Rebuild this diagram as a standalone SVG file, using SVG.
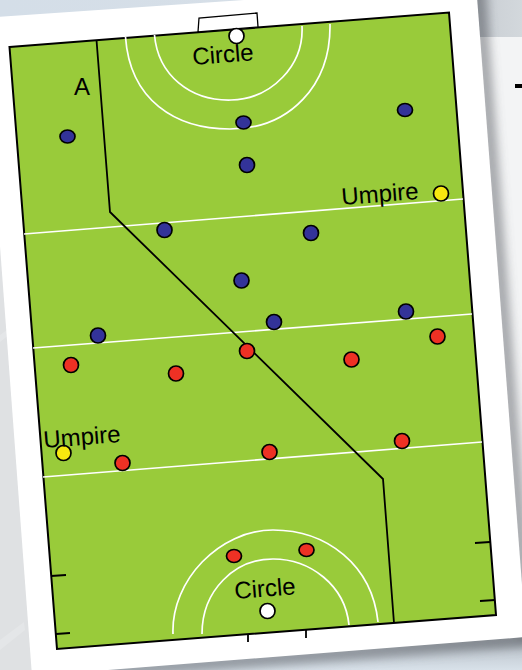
<svg xmlns="http://www.w3.org/2000/svg" width="522" height="670" viewBox="0 0 522 670">
<style>
.field{fill:#99cb3a;stroke:#000;stroke-width:2}
.k{fill:none;stroke:#000;stroke-width:1.800}
.w{fill:none;stroke:#fff;stroke-width:1.700}
.b{fill:#333399;stroke:#000;stroke-width:1.700}
.r{fill:#ee3124;stroke:#000;stroke-width:1.700}
.y{fill:#f7e70f;stroke:#000;stroke-width:1.700}
.o{fill:#fff;stroke:#000;stroke-width:1.700}
.s{fill:#fff;opacity:.18}
text{font-family:"Liberation Sans",Arial,sans-serif;font-size:24px;fill:#000}
</style>
<defs>
<linearGradient id="top" x1="0" y1="0" x2="1" y2="0"><stop offset="0" stop-color="#d4dee8"/><stop offset="1" stop-color="#d8dfe6"/></linearGradient>
<linearGradient id="tr" x1="0" y1="0" x2="1" y2="0"><stop offset="0" stop-color="#a9aeb4"/><stop offset=".5" stop-color="#cdd2d7"/><stop offset="1" stop-color="#d3d8dc"/></linearGradient>
<linearGradient id="bot" x1="0" y1="0" x2="0" y2="1"><stop offset="0" stop-color="#8f959b"/><stop offset=".55" stop-color="#c4ccd4"/><stop offset="1" stop-color="#d8e1e9"/></linearGradient>
<filter id="sh" x="-10%" y="-10%" width="120%" height="120%"><feGaussianBlur stdDeviation="6"/></filter>
</defs>
<rect width="522" height="670" fill="#dfe1e3"/>
<rect width="522" height="30" fill="url(#top)"/>
<rect x="470" y="0" width="52" height="37" fill="url(#tr)"/>
<rect x="470" y="37" width="52" height="633" fill="#f3f4f5"/>
<rect x="100" y="630" width="422" height="40" fill="url(#bot)"/>
<polygon class="s" points="0,335 18,322 18,328 0,342"/>
<polygon class="s" points="0,640 24,622 25,630 0,650"/>
<polyline points="478,-16 528,640 100,672" fill="none" stroke="#55595e" stroke-width="10" opacity=".7" filter="url(#sh)"/>
<polygon id="page" points="-17,18 476,-16 526,637 32,676" fill="#fff"/>
<rect x="515" y="84" width="7" height="4" fill="#000"/>
<g id="pitch">
<polygon class="field" points="9.500,47 449,12.500 496,615 57,649"/>
<polygon points="198,32 199,18 257,13 258,27" fill="#fff" stroke="#000" stroke-width="1.300"/>
<path class="w" d="M125.500,37C130,100 175,129 230,129C290,129 331,85 330,24"/>
<path class="w" d="M154.500,35C158,75 190,101 231,100C272,99 304,65 302,26"/>
<path class="w" d="M173,634C171,580 220,530 273,530C327,530 372,565 378,622"/>
<path class="w" d="M202,634C202,590 235,559 273,559C310,559 345,585 349,625"/>
<line class="w" x1="24" y1="234" x2="463" y2="199"/>
<line class="w" x1="33" y1="348" x2="472" y2="314"/>
<line class="w" x1="43" y1="477" x2="482" y2="442"/>
<path class="k" d="M96.500,40L110,212L383,479L394,623"/>
<path class="k" d="M51,576L66,575M56,634L70,633M475,543L490,542M480,601L495,600M248,634L248,642M306,630L306,638"/>
</g>
<g id="goal-top"><circle class="o" cx="236.500" cy="36" r="7.500"/><text transform="translate(193,65) rotate(-4.500)">Circle</text></g>
<g id="label-a"><text x="74" y="95">A</text></g>
<g id="umpire-1"><circle class="y" cx="441" cy="193.500" r="7.500"/><text transform="translate(342,205) rotate(-4.500)">Umpire</text></g>
<g id="umpire-2"><circle class="y" cx="63.500" cy="453" r="7.500"/><text transform="translate(44,448) rotate(-4.500)">Umpire</text></g>
<g id="goal-bottom"><circle class="o" cx="267.500" cy="611" r="7.500"/><text transform="translate(235,599) rotate(-4.500)">Circle</text></g>
<g id="blue">
<ellipse class="b" cx="67.500" cy="136.500" rx="7.500" ry="6.500"/>
<ellipse class="b" cx="243.500" cy="122.500" rx="7.500" ry="6.500"/>
<ellipse class="b" cx="405" cy="110" rx="7.500" ry="6.500"/>
<circle class="b" cx="247" cy="165" r="7.500"/>
<circle class="b" cx="164.500" cy="230" r="7.500"/>
<circle class="b" cx="311" cy="233" r="7.500"/>
<circle class="b" cx="241.500" cy="280.500" r="7.500"/>
<circle class="b" cx="274" cy="322" r="7.500"/>
<circle class="b" cx="406" cy="311.500" r="7.500"/>
<circle class="b" cx="98" cy="335.500" r="7.500"/>
</g>
<g id="red">
<circle class="r" cx="71" cy="365" r="7.500"/>
<circle class="r" cx="176" cy="373.500" r="7.500"/>
<circle class="r" cx="247" cy="351" r="7.500"/>
<circle class="r" cx="351.500" cy="359.500" r="7.500"/>
<circle class="r" cx="437.500" cy="336.500" r="7.500"/>
<circle class="r" cx="122.500" cy="463" r="7.500"/>
<circle class="r" cx="269.500" cy="452" r="7.500"/>
<circle class="r" cx="402" cy="441" r="7.500"/>
<ellipse class="r" cx="234" cy="556" rx="7.500" ry="6.500"/>
<ellipse class="r" cx="306.500" cy="550" rx="7.500" ry="6.500"/>
</g>
</svg>
